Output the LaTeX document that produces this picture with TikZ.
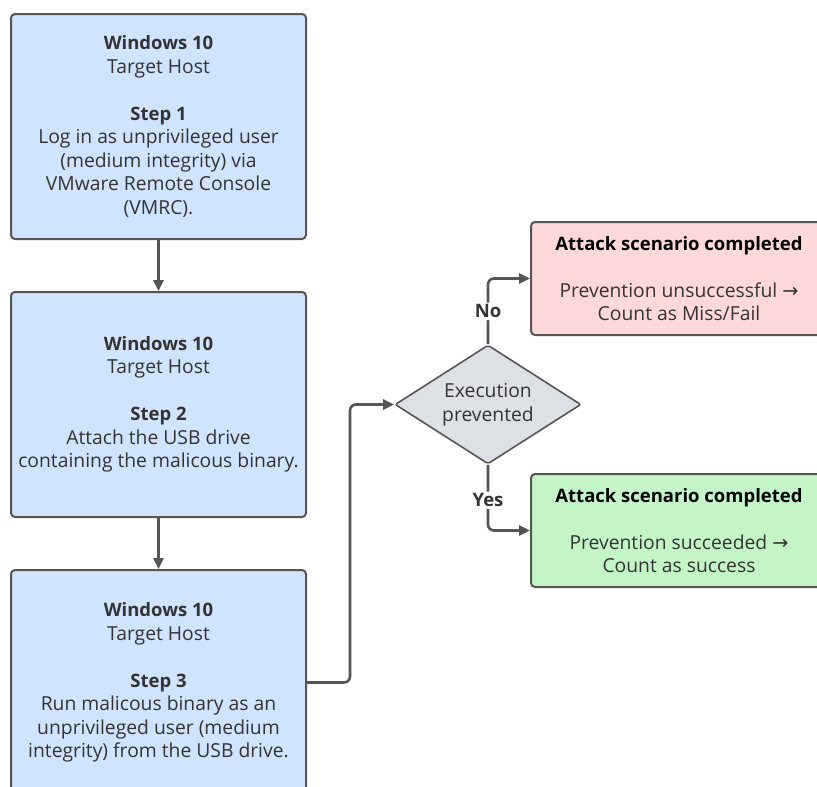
\documentclass[tikz,border=0pt]{standalone}
\usepackage{fontspec}
\setmainfont{Open Sans}
\newfontfamily\arrfont{DejaVu Sans}
\usetikzlibrary{shapes.geometric,arrows.meta}
\definecolor{bluefill}{HTML}{D0E3FF}
\definecolor{redfill}{HTML}{FFD8D9}
\definecolor{greenfill}{HTML}{C3F5C7}
\definecolor{grayfill}{HTML}{DDE0E5}
\definecolor{edge}{HTML}{555555}
\definecolor{txt}{HTML}{333333}
\newcommand{\hd}[1]{{\fontsize{18.5}{23.5}\selectfont\bfseries #1}}
\tikzset{
  stepbox/.style={draw=edge, line width=2pt, rounded corners=4pt, fill=bluefill,
    minimum width=295pt, minimum height=225pt, align=center, text=txt,
    font=\fontsize{19.3}{23.5}\selectfont, inner sep=0pt},
  endbox/.style={draw=edge, line width=2pt, rounded corners=4pt,
    minimum width=296pt, minimum height=113pt, align=center, text=txt,
    font=\fontsize{19.3}{23.5}\selectfont, inner sep=0pt},
  decision/.style={diamond, draw=edge, line width=1.6pt, fill=grayfill, aspect=1.56,
    minimum width=186pt, minimum height=119pt, inner sep=0pt, align=center, text=txt,
    font=\fontsize{19.3}{23.5}\selectfont, rounded corners=2pt},
  conn/.style={draw=edge, line width=2.6pt, rounded corners=6pt,
    -{Triangle[length=11pt,width=10pt]}},
  lbl/.style={fill=white, text=txt, font=\bfseries\fontsize{18.5}{21}\selectfont, inner sep=2pt}
}
\begin{document}
\begin{tikzpicture}[x=1pt,y=-1pt]
\useasboundingbox (0,0) rectangle (817,787);
\clip (0,0) rectangle (817,787);
\node[stepbox] (b1) at (158.5,126.5) {\hd{Windows 10}\\Target Host\\[23.5pt]\hd{Step 1}\\Log in as unprivileged user\\(medium integrity) via\\VMware Remote Console\\(VMRC).};
\node[stepbox] (b2) at (158.5,404.5) {\hd{Windows 10}\\Target Host\\[23.5pt]\hd{Step 2}\\Attach the USB drive\\containing the malicous binary.};
\node[stepbox] (b3) at (158.5,682.5) {\hd{Windows 10}\\Target Host\\[23.5pt]\hd{Step 3}\\Run malicous binary as an\\unprivileged user (medium\\integrity) from the USB drive.};
\node[decision] (dia) at (488,404.5) {Execution\\prevented};
\node[endbox, fill=redfill] (red) at (679,278.5) {\textcolor{black}{\hd{Attack scenario completed}}\\[23.5pt]Prevention unsuccessful {\arrfont →}\\Count as Miss/Fail};
\node[endbox, fill=greenfill] (green) at (679,530.5) {\textcolor{black}{\hd{Attack scenario completed}}\\[23.5pt]Prevention succeeded {\arrfont →}\\Count as success};
\coordinate (c1) at (350,682.5);
\draw[conn] (b1.south) -- (b2.north);
\draw[conn] (b2.south) -- (b3.north);
\draw[conn] (b3.east) -- (c1) |- (dia.west);
\draw[conn] (dia.north) |- node[lbl, pos=0.25] {No} (red.west);
\draw[conn] (dia.south) |- node[lbl, pos=0.27] {Yes} (green.west);
\end{tikzpicture}
\end{document}
